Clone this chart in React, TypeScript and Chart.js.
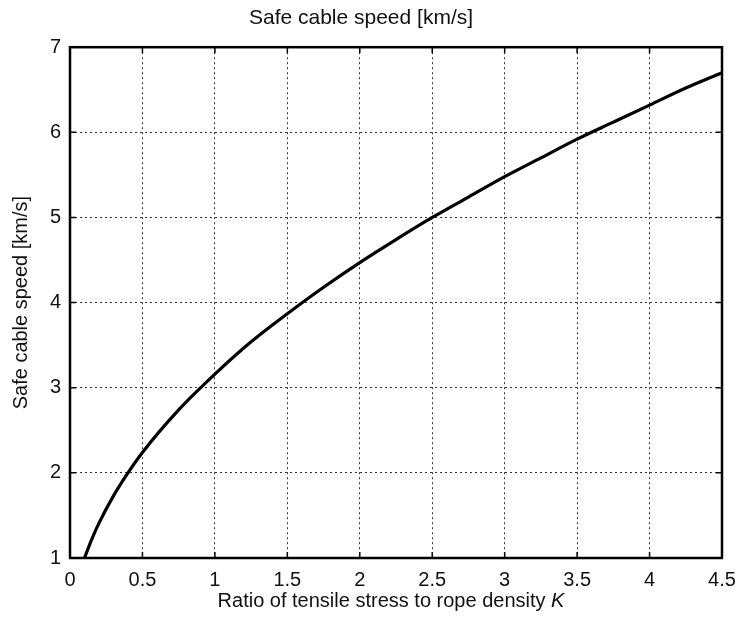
import React, { useEffect, useRef } from "react";
import { Chart, registerables } from "chart.js";

Chart.register(...registerables);

const kValues = [0.1, 0.15, 0.2, 0.3, 0.4, 0.5, 0.75, 1, 1.25, 1.5, 1.75, 2, 2.25, 2.5, 2.75, 3, 3.25, 3.5, 3.75, 4, 4.25, 4.5];
const speedValues = [1.0, 1.22, 1.41, 1.73, 2.0, 2.24, 2.74, 3.16, 3.54, 3.87, 4.18, 4.47, 4.74, 5.0, 5.24, 5.48, 5.7, 5.92, 6.12, 6.32, 6.52, 6.7];

const chartTitle = "Safe cable speed [km/s]";
const yTitle = "Safe cable speed [km/s]";
const xTitleMain = "Ratio of tensile stress to rope density ";
const xTitleItalic = "K";

const FONT = "'Liberation Sans', Arial, Helvetica, sans-serif";

const framePlugin = {
  id: "frameAndTicks",
  afterDraw(chart: any) {
    const { ctx, chartArea, scales } = chart;
    const { left, right, top, bottom } = chartArea;
    ctx.save();
    ctx.strokeStyle = "#000";
    ctx.lineWidth = 1.5;
    const tl = 6;
    ctx.beginPath();
    scales.x.ticks.forEach((t: any) => {
      const px = scales.x.getPixelForValue(t.value);
      ctx.moveTo(px, bottom);
      ctx.lineTo(px, bottom - tl);
      ctx.moveTo(px, top);
      ctx.lineTo(px, top + tl);
    });
    scales.y.ticks.forEach((t: any) => {
      const py = scales.y.getPixelForValue(t.value);
      ctx.moveTo(left, py);
      ctx.lineTo(left + tl, py);
      ctx.moveTo(right, py);
      ctx.lineTo(right - tl, py);
    });
    ctx.stroke();
    ctx.lineWidth = 2.5;
    ctx.strokeRect(left, top, right - left, bottom - top);

    // x axis title with italic K
    ctx.fillStyle = "#111";
    ctx.textBaseline = "middle";
    ctx.textAlign = "left";
    const normalFont = `20px ${FONT}`;
    const italicFont = `italic 20px ${FONT}`;
    ctx.font = normalFont;
    const w1 = ctx.measureText(xTitleMain).width;
    ctx.font = italicFont;
    const w2 = ctx.measureText(xTitleItalic).width;
    const cx = 391;
    const x0 = cx - (w1 + w2) / 2;
    const y = 601;
    ctx.font = normalFont;
    ctx.fillText(xTitleMain, x0, y);
    ctx.font = italicFont;
    ctx.fillText(xTitleItalic, x0 + w1, y);
    ctx.restore();
  },
};

export default function App() {
  const ref = useRef<HTMLCanvasElement | null>(null);

  useEffect(() => {
    if (!ref.current) return;
    const chart = new Chart(ref.current, {
      type: "line",
      data: {
        datasets: [
          {
            data: kValues.map((k, i) => ({ x: k, y: speedValues[i] })),
            borderColor: "#000",
            borderWidth: 3.2,
            pointRadius: 0,
            cubicInterpolationMode: "monotone",
            fill: false,
          },
        ],
      },
      options: {
        animation: false,
        responsive: false,
        devicePixelRatio: 1,
        layout: { padding: { left: 0, right: 15, top: 0, bottom: 0 } },
        plugins: {
          legend: { display: false },
          tooltip: { enabled: false },
          title: {
            display: true,
            text: chartTitle,
            color: "#111",
            font: { family: FONT, size: 21, weight: "normal" },
            padding: { top: 6, bottom: 16 },
          },
        },
        scales: {
          x: {
            type: "linear",
            min: 0,
            max: 4.5,
            afterFit: (s: any) => {
              s.height = 70;
              s.paddingLeft = 0;
              s.paddingRight = 0;
            },
            ticks: {
              stepSize: 0.5,
              color: "#111",
              padding: 10,
              maxRotation: 0,
              autoSkip: false,
              font: { family: FONT, size: 20 },
              callback: (v: any) => String(v),
            },
            grid: { color: "#333", lineWidth: 1, drawTicks: false },
            border: { display: false, dash: [2, 3] },
          },
          y: {
            type: "linear",
            min: 1,
            max: 7,
            afterFit: (s: any) => {
              s.width = 70;
              s.paddingTop = 0;
              s.paddingBottom = 0;
            },
            ticks: {
              stepSize: 1,
              color: "#111",
              padding: 9,
              font: { family: FONT, size: 20 },
            },
            grid: { color: "#333", lineWidth: 1, drawTicks: false },
            border: { display: false, dash: [2, 3] },
            title: {
              display: true,
              text: yTitle,
              color: "#111",
              font: { family: FONT, size: 20, weight: "normal" },
              padding: { top: 9, bottom: 0 },
            },
          },
        },
      },
      plugins: [framePlugin],
    } as any);
    return () => chart.destroy();
  }, []);

  return (
    <div style={{ position: "fixed", left: 0, top: 0, width: 737, height: 628, background: "#fff" }}>
      <canvas ref={ref} width={737} height={628} style={{ display: "block" }} />
    </div>
  );
}
